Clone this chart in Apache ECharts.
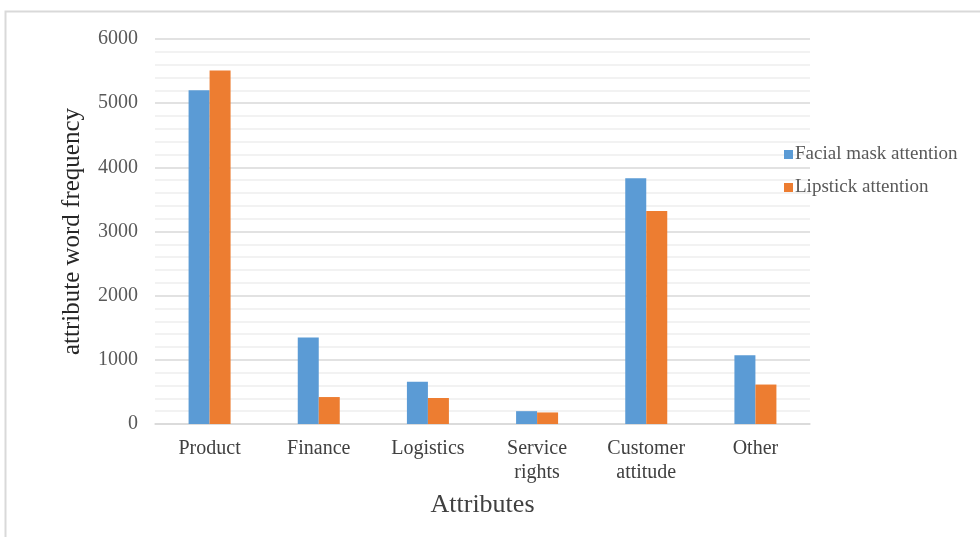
<!DOCTYPE html>
<html>
<head>
<meta charset="utf-8">
<script src="https://cdn.jsdelivr.net/npm/echarts@6/dist/echarts.min.js"></script>
<style>
html,body{margin:0;padding:0;background:#fff;}
#chart{width:980px;height:537px;}
</style>
</head>
<body>
<div id="chart"></div>
<script>
// Attribute categories and word-frequency counts per product type
const categories = ['Product', 'Finance', 'Logistics', 'Service\nrights', 'Customer\nattitude', 'Other'];
const facialMask = [5200, 1350, 660, 200, 3830, 1070];
const lipstick = [5510, 420, 405, 180, 3320, 615];
const seriesNames = ['Facial mask attention', 'Lipstick attention'];
const yTicks = { min: 0, max: 6000, interval: 1000 };

const serif = '"Liberation Serif", "Times New Roman", serif';
const chart = echarts.init(document.getElementById('chart'));

chart.setOption({
  animation: false,
  backgroundColor: '#fff',
  textStyle: { fontFamily: serif },
  graphic: [{
    type: 'polyline',
    shape: { points: [[5.5, 537], [5.5, 11.5], [980, 11.5]] },
    style: { stroke: '#d9d9d9', lineWidth: 2, fill: null }
  }],
  grid: { left: 155, right: 170, top: 39, bottom: 113, containLabel: false },
  legend: {
    orient: 'vertical',
    left: 779,
    top: 140,
    itemWidth: 9,
    itemHeight: 9,
    itemGap: 14,
    icon: 'rect',
    textStyle: { fontFamily: serif, fontSize: 19, color: '#595959', padding: [0, 0, 0, -3] },
    data: seriesNames
  },
  xAxis: {
    type: 'category',
    data: categories,
    name: 'Attributes',
    nameLocation: 'middle',
    nameGap: 68,
    nameTextStyle: { fontFamily: serif, fontSize: 26, color: '#404040' },
    axisLine: { lineStyle: { color: '#d9d9d9', width: 1.5 } },
    axisTick: { show: false },
    axisLabel: { fontFamily: serif, fontSize: 20, color: '#404040', margin: 13, lineHeight: 24 }
  },
  yAxis: {
    type: 'value',
    min: yTicks.min,
    max: yTicks.max,
    interval: yTicks.interval,
    name: 'attribute word frequency',
    nameLocation: 'middle',
    nameGap: 70,
    nameTextStyle: { fontFamily: serif, fontSize: 25, color: '#262626' },
    axisLine: { show: false },
    axisTick: { show: false },
    axisLabel: {
      fontFamily: serif, fontSize: 20, color: '#595959', margin: 17,
      formatter: (v) => String(v)
    },
    splitLine: { lineStyle: { color: '#d9d9d9', width: 1.5 } },
    minorTick: { show: false, splitNumber: 5 },
    minorSplitLine: { show: true, lineStyle: { color: '#eeeeee', width: 1.5 } }
  },
  series: [
    {
      name: seriesNames[0],
      type: 'bar',
      data: facialMask,
      barWidth: 21,
      barGap: '0%',
      itemStyle: { color: '#5b9bd5' }
    },
    {
      name: seriesNames[1],
      type: 'bar',
      data: lipstick,
      barWidth: 21,
      barGap: '0%',
      itemStyle: { color: '#ed7d31' }
    }
  ]
});
</script>
</body>
</html>
